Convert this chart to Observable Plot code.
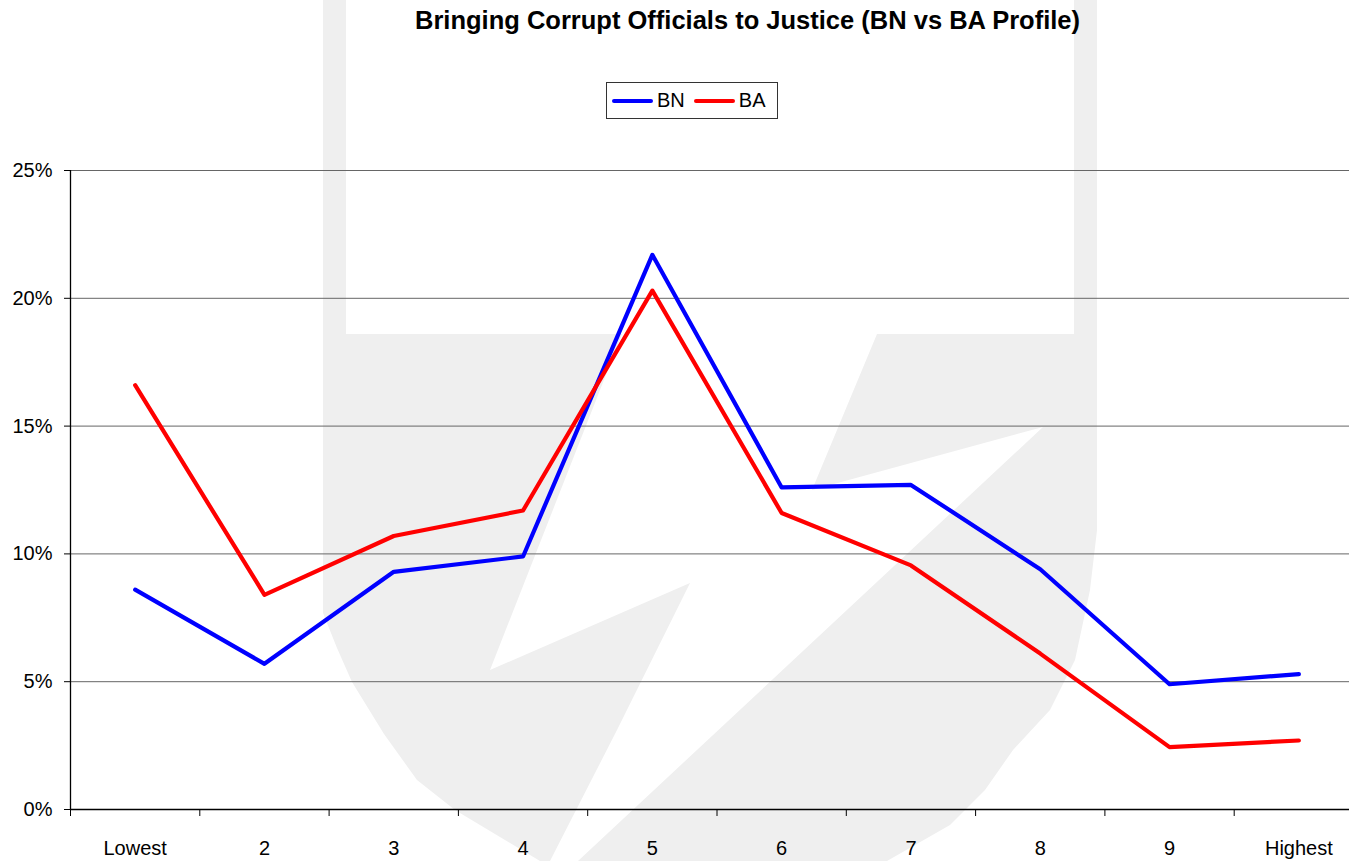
<!DOCTYPE html>
<html>
<head>
<meta charset="utf-8">
<script src="https://cdn.jsdelivr.net/npm/d3@7"></script>
<script src="https://cdn.jsdelivr.net/npm/@observablehq/plot@0.6"></script>
<style>
  body { margin: 0; background: #fff; font-family: "Liberation Sans", Arial, sans-serif; }
  #wrap { position: relative; width: 1349px; height: 861px; overflow: hidden; background: #fff; }
  #watermark { position: absolute; left: 0; top: 0; }
  #title { position: absolute; left: 0; width: 1495px; top: 6px; text-align: center; font-weight: bold; font-size: 25.5px; color: #000; }
  #legend { position: absolute; left: 606px; top: 82px; width: 170px; height: 35px; border: 1px solid #333; background: #fff;
            display: flex; align-items: center; font-size: 20px; color: #000; }
  .sw { display: inline-block; height: 4px; border-radius: 2px; }
  #chart { position: absolute; left: 0; top: 0; }
</style>
</head>
<body>
<div id="wrap">
  <!-- decorative background watermark (not data) -->
  <svg id="watermark" width="1349" height="861">
    <path fill="#efefef" d="M323,0 L1097,0 L1097,530 L1090,590 L1075,660 L1050,710 L1013,750 L985,790 L950,825 L887,861 L540,861 L455,810 L417,780 L384,734 L352,682 L337,648 L323,613 Z"/>
    <rect x="346" y="0" width="728" height="334" fill="#fff"/>
    <path fill="#fff" d="M622,334 L877,334 L812,490 L1043,427 L578,861 L550,861 L617,730 L690,583 L490,670 Z"/>
  </svg>
  <div id="chart"></div>
  <div id="title">Bringing Corrupt Officials to Justice (BN vs BA Profile)</div>
  <div id="legend"></div>
</div>
<script>
const categories = ["Lowest", "2", "3", "4", "5", "6", "7", "8", "9", "Highest"];
const seriesNames = ["BN", "BA"];
const seriesColors = ["#0000ff", "#ff0000"];
const bnValues = [8.6, 5.7, 9.3, 9.9, 21.7, 12.6, 12.7, 9.4, 4.9, 5.3];
const baValues = [16.6, 8.4, 10.7, 11.7, 20.3, 11.6, 9.55, 6.1, 2.44, 2.7];
const yTicks = [0, 5, 10, 15, 20, 25];

const data = [];
categories.forEach((c, i) => {
  data.push({series: "BN", idx: i + 0.5, value: bnValues[i]});
  data.push({series: "BA", idx: i + 0.5, value: baValues[i]});
});

const chart = Plot.plot({
  width: 1349,
  height: 861,
  marginTop: 170,
  marginBottom: 52,
  marginLeft: 70,
  marginRight: 0,
  style: {fontFamily: "'Liberation Sans', Arial, sans-serif", background: "transparent"},
  x: {type: "linear", domain: [0, categories.length], range: [70, 1363]},
  y: {domain: [0, 25], range: [809, 170]},
  color: {domain: seriesNames, range: seriesColors},
  marks: [
    Plot.gridY(yTicks, {stroke: "#666", strokeOpacity: 1, strokeWidth: 1}),
    Plot.axisY({ticks: yTicks, tickFormat: d => d + "%", tickSize: 6, tickPadding: 12, fontSize: 20, stroke: "#000", color: "#000", label: null}),
    Plot.axisX({ticks: d3.range(0, categories.length + 1), tickFormat: () => "", tickSize: 7, stroke: "#000", label: null}),
    Plot.axisX({ticks: categories.map((c, i) => i + 0.5), tickFormat: d => categories[Math.floor(d)], tickSize: 0, tickPadding: 31, fontSize: 20, color: "#000", label: null}),
    Plot.ruleY([0], {stroke: "#000", strokeWidth: 1.3}),
    Plot.ruleX([0], {stroke: "#000", strokeWidth: 1.3}),
    Plot.line(data, {x: "idx", y: "value", z: "series", stroke: "series", strokeWidth: 4.2, strokeLinejoin: "round", strokeLinecap: "round"})
  ]
});
document.getElementById("chart").appendChild(chart);

const legend = document.getElementById("legend");
seriesNames.forEach((n, i) => {
  const sw = document.createElement("span");
  sw.className = "sw";
  sw.style.background = seriesColors[i];
  sw.style.width = "41px";
  sw.style.marginLeft = i === 0 ? "5px" : "9px";
  sw.style.marginRight = "4px";
  legend.appendChild(sw);
  const lab = document.createElement("span");
  lab.textContent = n;
  legend.appendChild(lab);
});
</script>
</body>
</html>
